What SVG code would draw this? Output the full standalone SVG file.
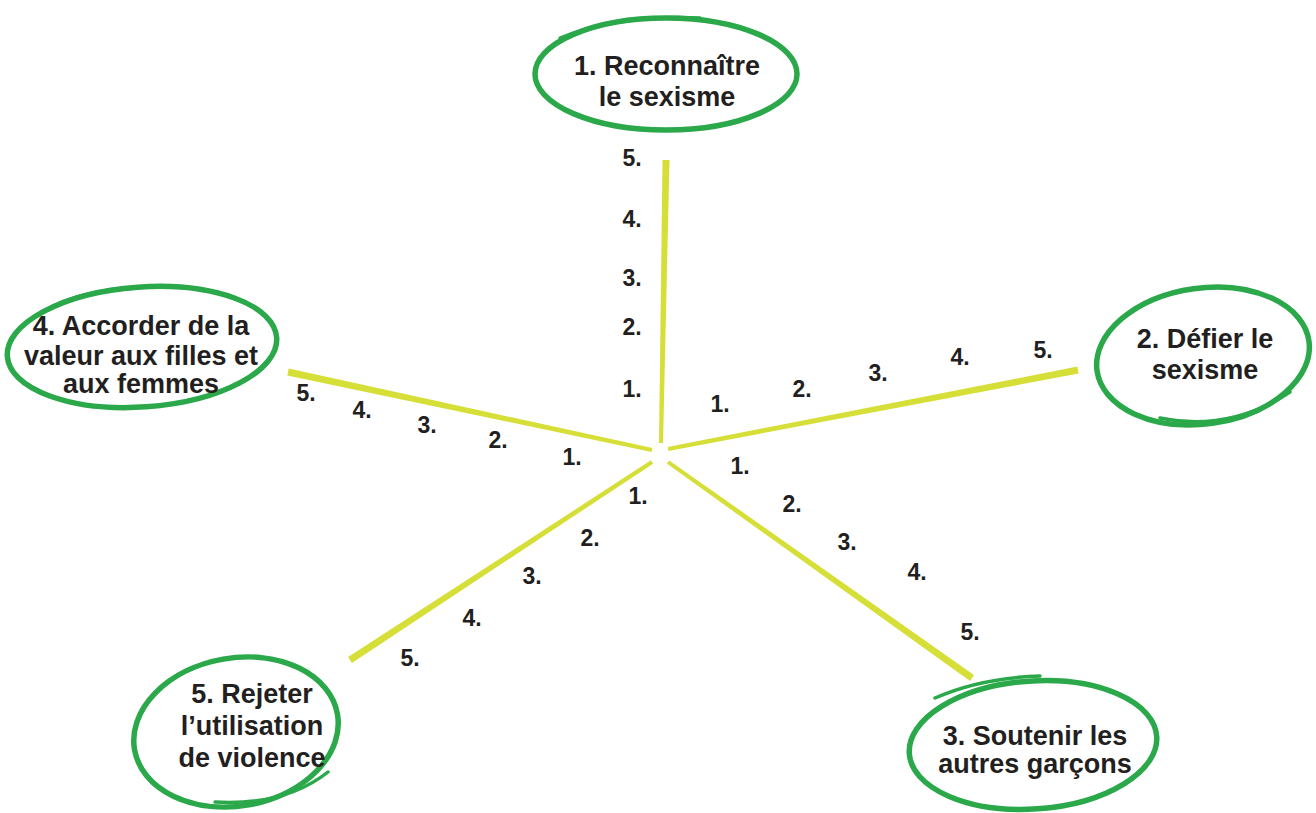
<svg xmlns="http://www.w3.org/2000/svg" width="1316" height="813" viewBox="0 0 1316 813">
<style>
.ring{fill:none;stroke:#2aa84a;stroke-width:5.5;stroke-linecap:round}
.tail{fill:none;stroke:#2aa84a;stroke-width:3.5;stroke-linecap:round}
.lbl{font-family:"Liberation Sans",Arial,sans-serif;font-weight:bold;font-size:27px;fill:#231f20;text-anchor:middle}
.num{font-family:"Liberation Sans",Arial,sans-serif;font-weight:bold;font-size:23px;fill:#231f20;text-anchor:middle}
.spoke{fill:#d6de38}
</style>
<rect width="1316" height="813" fill="#ffffff"/>
<g id="connectors">
<polygon class="spoke" points="659,443 663,443 669.5,160 662.5,160"/>
<polygon class="spoke" points="668.4,451 667.6,447 1077.3,366.6 1078.7,373.4"/>
<polygon class="spoke" points="666.8,463.6 669.2,460.4 974,675.1 970,680.9"/>
<polygon class="spoke" points="653.1,463.7 650.9,460.3 348.1,657.1 351.9,662.9"/>
<polygon class="spoke" points="651.6,452 652.4,448 288.7,368.6 287.3,375.4"/>
</g>
<g id="scale-up">
<text class="num" x="632" y="166">5.</text>
<text class="num" x="632" y="227">4.</text>
<text class="num" x="632" y="286">3.</text>
<text class="num" x="632" y="335">2.</text>
<text class="num" x="632" y="397">1.</text>
</g>
<g id="scale-right">
<text class="num" x="720" y="412">1.</text>
<text class="num" x="802" y="397">2.</text>
<text class="num" x="878" y="381">3.</text>
<text class="num" x="960" y="365">4.</text>
<text class="num" x="1043" y="358">5.</text>
</g>
<g id="scale-downright">
<text class="num" x="740" y="474">1.</text>
<text class="num" x="792" y="512">2.</text>
<text class="num" x="847" y="550">3.</text>
<text class="num" x="917" y="580">4.</text>
<text class="num" x="970" y="640">5.</text>
</g>
<g id="scale-downleft">
<text class="num" x="638" y="504">1.</text>
<text class="num" x="590" y="546">2.</text>
<text class="num" x="532" y="584">3.</text>
<text class="num" x="472" y="626">4.</text>
<text class="num" x="410" y="666">5.</text>
</g>
<g id="scale-left">
<text class="num" x="306" y="401">5.</text>
<text class="num" x="362" y="418">4.</text>
<text class="num" x="427" y="433">3.</text>
<text class="num" x="498" y="448">2.</text>
<text class="num" x="572" y="465">1.</text>
</g>
<g id="node1">
<ellipse class="ring" cx="666" cy="74" rx="131" ry="56"/>
<path class="tail" d="M560,38 Q620,14 700,18"/>
<text class="lbl" x="667" y="75">1. Reconnaître</text>
<text class="lbl" x="667" y="106">le sexisme</text>
</g>
<g id="node2">
<ellipse class="ring" cx="1203" cy="356" rx="107" ry="68" transform="rotate(-8 1203 356)"/>
<path class="tail" d="M1160,418 Q1230,432 1290,392"/>
<text class="lbl" x="1205" y="348">2. Défier le</text>
<text class="lbl" x="1205" y="379">sexisme</text>
</g>
<g id="node3">
<ellipse class="ring" cx="1033" cy="745" rx="124" ry="64" transform="rotate(-4 1033 745)"/>
<path class="tail" d="M935,698 Q980,678 1040,676"/>
<text class="lbl" x="1035" y="745">3. Soutenir les</text>
<text class="lbl" x="1035" y="773">autres garçons</text>
</g>
<g id="node4">
<ellipse class="ring" cx="142" cy="347" rx="135" ry="60" transform="rotate(-4 142 347)"/>
<path class="tail" d="M30,320 Q70,290 140,287"/>
<text class="lbl" x="141" y="335">4. Accorder de la</text>
<text class="lbl" x="141" y="365">valeur aux filles et</text>
<text class="lbl" x="141" y="393">aux femmes</text>
</g>
<g id="node5">
<ellipse class="ring" cx="236" cy="732" rx="103" ry="74" transform="rotate(-10 236 732)"/>
<path class="tail" d="M215,802 Q285,806 328,772"/>
<text class="lbl" x="252" y="703">5. Rejeter</text>
<text class="lbl" x="252" y="735">l’utilisation</text>
<text class="lbl" x="252" y="767">de violence</text>
</g>
</svg>
